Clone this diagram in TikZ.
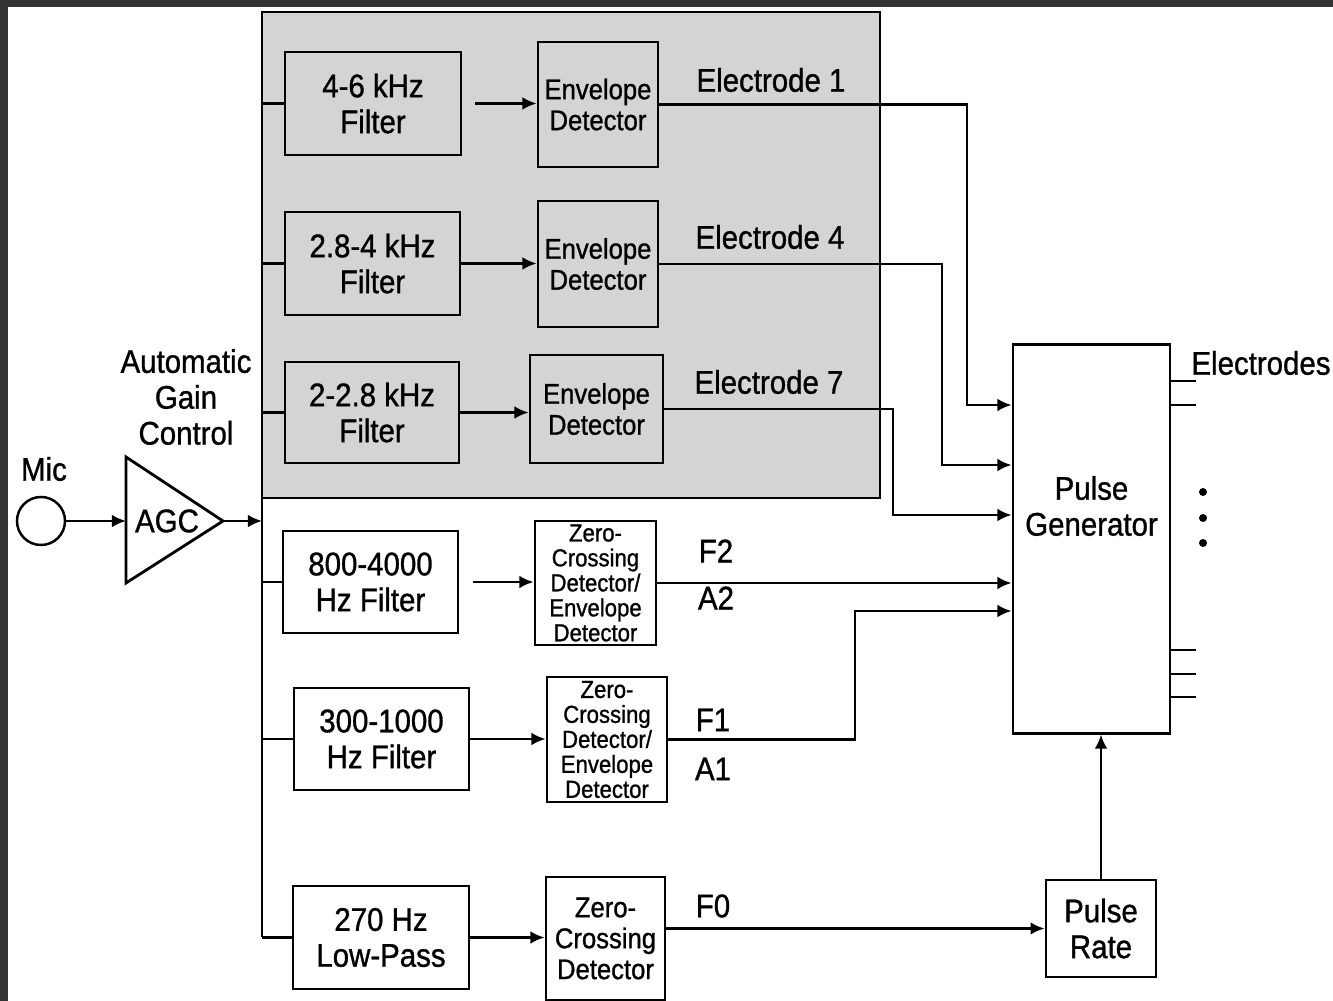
\documentclass[tikz,border=0pt]{standalone}
\usepackage{fontspec}
\setmainfont[FakeStretch=0.9, FakeBold=1]{Liberation Sans}
\usepackage{tikz}
\usetikzlibrary{arrows.meta, calc}
\definecolor{FrameGray}{RGB}{51,51,51}
\definecolor{BandGray}{RGB}{212,212,212}

\begin{document}
\begin{tikzpicture}[x=0.01cm, y=-0.01cm,
            box/.style={draw, line width=0.8pt, align=center, inner sep=1pt},
            filt/.style={box, minimum width=1.75cm, minimum height=1.03cm,
                         font=\fontsize{9.3}{10.2}\selectfont},
            envdet/.style={box, minimum width=1.2cm, minimum height=1.25cm,
                           font=\fontsize{8.1}{8.8}\selectfont},
            zcdet/.style={box, minimum width=1.21cm, minimum height=1.24cm,
                          inner sep=0pt, font=\fontsize{7}{7.1}\selectfont},
            lbl/.style={font=\fontsize{9.3}{10.2}\selectfont, align=center},
            wire/.style={line width=0.7pt},
            arr/.style={-{Latex[length=4pt, width=3.6pt]}, line width=0.7pt}
          ]
          \useasboundingbox (0,0) rectangle (1333,1001);
          % frame of the scan
          \fill[FrameGray] (0,0) rectangle (1333,7);
          \fill[FrameGray] (0,0) rectangle (8,1001);
          % shaded group of envelope channels
          \filldraw[fill=BandGray, draw=black, line width=0.6pt] (262,12) rectangle (880,498);

          % microphone and AGC
          \node[draw, circle, line width=0.7pt, minimum size=0.48cm, inner sep=0pt] (mic) at (41,521) {};
          \node[lbl] (miclbl) at (44,469) {Mic};
          \draw[line width=0.8pt] (126,457) -- (223,521) -- (126,583) -- cycle;
          \coordinate (agcin) at (126,521);
          \coordinate (agcout) at (223,521);
          \node[lbl] (agc) at (167,521) {AGC};
          \node[lbl] (agclbl) at (186,397) {Automatic\\Gain\\Control};
          \coordinate (bus) at (262,521);
          \draw[arr] (mic.east) -- (agcin);
          \draw[arr] (agcout) -- (bus);

          % filters
          \node[filt, minimum width=1.76cm] (f1) at (373,103.5) {4-6 kHz\\Filter};
          \node[filt] (f2) at (372.5,263.5) {2.8-4 kHz\\Filter};
          \node[filt, minimum width=1.74cm, minimum height=1.01cm] (f3) at (372,412.5) {2-2.8 kHz\\Filter};
          \node[filt, minimum height=1.02cm] (f4) at (370.5,582) {800-4000\\Hz Filter};
          \node[filt, minimum height=1.02cm] (f5) at (381.5,739) {300-1000\\Hz Filter};
          \node[filt, minimum width=1.76cm] (f6) at (381,937.5) {270 Hz\\Low-Pass};

          % bus to the filters
          \draw[wire] (f1.west -| bus) -- (f6.west -| bus);
          \foreach \i in {1,...,6} {
            \draw[wire] (f\i.west -| bus) -- (f\i.west);
          }

          % detectors
          \node[envdet] (d1) at (598,104.5) {Envelope\\Detector};
          \node[envdet, minimum height=1.26cm] (d2) at (598,264) {Envelope\\Detector};
          \node[envdet, minimum width=1.33cm, minimum height=1.08cm] (d3) at (596.5,409) {Envelope\\Detector};
          \node[zcdet] (d4) at (595.5,583) {Zero-\\Crossing\\Detector/\\Envelope\\Detector};
          \node[zcdet, minimum width=1.2cm, minimum height=1.25cm] (d5) at (607,739.5) {Zero-\\Crossing\\Detector/\\Envelope\\Detector};
          \node[envdet, minimum width=1.19cm, minimum height=1.23cm] (d6) at (605.5,938.5) {Zero-\\Crossing\\Detector};

          \draw[arr, shorten <=0.13cm] (f1.east) -- (f1.east -| d1.west);
          \draw[arr] (f2.east) -- (f2.east -| d2.west);
          \draw[arr] (f3.east) -- (f3.east -| d3.west);
          \draw[arr, shorten <=0.14cm] (f4.east) -- (f4.east -| d4.west);
          \draw[arr] (f5.east) -- (f5.east -| d5.west);
          \draw[arr] (f6.east) -- (f6.east -| d6.west);

          % pulse generator and pulse rate
          \node[box, minimum width=1.57cm, minimum height=3.88cm] (pg) at (1091.5,539) {};
          \node[lbl] (pgtxt) at (1091.5,506) {Pulse\\Generator};
          \node[box, minimum width=1.1cm, minimum height=0.97cm, lbl] (pr) at (1101,928.5) {Pulse\\Rate};

          \coordinate (in1) at (pg.west |- 0,405);
          \coordinate (in2) at (pg.west |- 0,465);
          \coordinate (in3) at (pg.west |- 0,515);
          \coordinate (in5) at (pg.west |- 0,611);

          \draw[arr] (d1.east) -| (967,405) -- (in1);
          \draw[arr] (d2.east) -| (942,465) -- (in2);
          \draw[arr] (d3.east) -| (893,515) -- (in3);
          \draw[arr] (d4.east) -- (d4.east -| pg.west);
          \draw[arr] (d5.east) -| (855,611) -- (in5);
          \draw[arr] (d6.east |- pr.west) -- (pr.west);
          \draw[arr] (pr.north) -- (pr.north |- pg.south);

          % signal labels
          \node[lbl] (e1) at (771,80) {Electrode 1};
          \node[lbl] (e4) at (770,237) {Electrode 4};
          \node[lbl] (e7) at (769,382) {Electrode 7};
          \node[lbl] (f2lbl) at (716,551) {F2};
          \node[lbl] (a2lbl) at (716,598) {A2};
          \node[lbl] (f1lbl) at (713,720) {F1};
          \node[lbl] (a1lbl) at (713,769) {A1};
          \node[lbl] (f0lbl) at (713,906) {F0};

          % electrode outputs
          \node[lbl] (elec) at (1261,363) {Electrodes};
          \foreach \y in {381,405,650,674,697} {
            \draw[wire] (pg.east |- 0,\y) -- ++(25,0);
          }
          \foreach \y in {492,518,543} {
            \fill (1203,\y) circle (0.04cm);
          }
        \end{tikzpicture}
\end{document}
